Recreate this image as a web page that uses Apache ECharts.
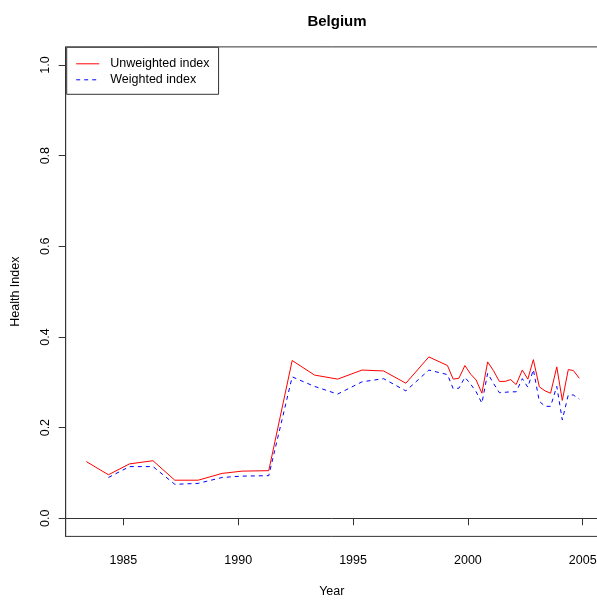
<!DOCTYPE html>
<html>
<head>
<meta charset="utf-8">
<script src="https://cdn.jsdelivr.net/npm/echarts@6/dist/echarts.min.js"></script>
<style>
html,body{margin:0;padding:0;background:#fff;}
#chart{width:597px;height:600px;}
</style>
</head>
<body>
<div id="chart"></div>
<script>
// Data
const years = [1983.39, 1984.35, 1985.27, 1986.29, 1987.24, 1988.26, 1989.30, 1990.17, 1991.33,
  1992.35, 1993.32, 1994.33, 1995.39, 1996.33, 1997.30, 1998.30,
  1999.11, 1999.36, 1999.61, 1999.87, 2000.12, 2000.36, 2000.61, 2000.86,
  2001.11, 2001.37, 2001.62, 2001.86, 2002.10, 2002.37, 2002.61, 2002.85,
  2003.11, 2003.36, 2003.60, 2003.87, 2004.11, 2004.37, 2004.59, 2004.85];
const unweighted = [0.125, 0.096, 0.120, 0.127, 0.084, 0.084, 0.099, 0.104, 0.105,
  0.348, 0.316, 0.307, 0.327, 0.325, 0.298, 0.356,
  0.337, 0.307, 0.309, 0.337, 0.318, 0.305, 0.276, 0.345,
  0.326, 0.302, 0.302, 0.306, 0.295, 0.327, 0.307, 0.350,
  0.290, 0.281, 0.276, 0.334, 0.260, 0.328, 0.326, 0.309];
const weighted = [null, 0.090, 0.114, 0.114, 0.075, 0.077, 0.090, 0.093, 0.094,
  0.312, 0.291, 0.274, 0.301, 0.308, 0.281, 0.327,
  0.317, 0.286, 0.287, 0.311, 0.296, 0.279, 0.254, 0.320,
  0.298, 0.277, 0.278, 0.279, 0.279, 0.308, 0.289, 0.328,
  0.258, 0.247, 0.247, 0.291, 0.217, 0.272, 0.272, 0.263];
const xTicks = [1985, 1990, 1995, 2000, 2005];
const yTicks = [0, 0.2, 0.4, 0.6, 0.8, 1.0];
const titleText = 'Belgium';
const seriesNames = ['Unweighted index', 'Weighted index'];

const pairs = (vals) => years.map((y, i) => vals[i] == null ? null : [y, vals[i]]).filter(p => p);

const font = '"Liberation Sans", Arial, Helvetica, sans-serif';
const fs = 12.5;
const chart = echarts.init(document.getElementById('chart'), null, {renderer: 'canvas'});
chart.setOption({
  animation: false,
  backgroundColor: '#fff',
  title: {
    text: titleText,
    left: 332, top: 9, textAlign: 'center',
    textStyle: {fontFamily: font, fontSize: 15, fontWeight: 'bold', color: '#000'}
  },
  legend: {
    orient: 'vertical',
    left: 66.7, top: 47.3,
    padding: [10, 9, 8, 9],
    itemGap: 3,
    itemWidth: 23, itemHeight: 13,
    borderColor: '#333', borderWidth: 1,
    backgroundColor: '#fff',
    itemStyle: {opacity: 0},
    lineStyle: {width: 1},
    textStyle: {fontFamily: font, fontSize: fs, color: '#000', padding: [0, 0, 0, 6]},
    data: seriesNames
  },
  grid: {left: 65.7, right: -0.9, top: 46.9, bottom: 63.6, show: true, borderColor: '#333', borderWidth: 1,
    containLabel: false, outerBoundsMode: 'none'},
  xAxis: {
    type: 'value', min: 1982.49, max: 2005.66,
    name: 'Year', nameLocation: 'middle', nameGap: 49,
    nameTextStyle: {fontFamily: font, fontSize: fs, color: '#000'},
    axisLine: {show: true, lineStyle: {color: '#333'}},
    axisTick: {show: true, length: 7, customValues: xTicks, lineStyle: {color: '#333'}},
    axisLabel: {customValues: xTicks, margin: 18, fontFamily: font, fontSize: fs, color: '#000',
      formatter: v => String(v)},
    splitLine: {show: false}
  },
  yAxis: {
    type: 'value', min: -0.04, max: 1.04,
    name: 'Health Index', nameLocation: 'middle', nameGap: 44, nameRotate: 90,
    nameTextStyle: {fontFamily: font, fontSize: fs, color: '#000'},
    axisLine: {show: true, lineStyle: {color: '#333'}},
    axisTick: {show: true, length: 7, customValues: yTicks, lineStyle: {color: '#333'}},
    axisLabel: {customValues: yTicks, rotate: 90, margin: 14, fontFamily: font, fontSize: fs, color: '#000',
      formatter: v => v.toFixed(1)},
    splitLine: {show: false}
  },
  series: [
    {name: seriesNames[0], type: 'line', data: pairs(unweighted), symbol: 'none',
      color: '#ff0000', lineStyle: {color: '#ff0000', width: 1}},
    {name: seriesNames[1], type: 'line', data: pairs(weighted), symbol: 'none',
      color: '#0000ff', lineStyle: {color: '#0000ff', width: 1, type: [4, 4]}}
  ]
});
</script>
</body>
</html>
